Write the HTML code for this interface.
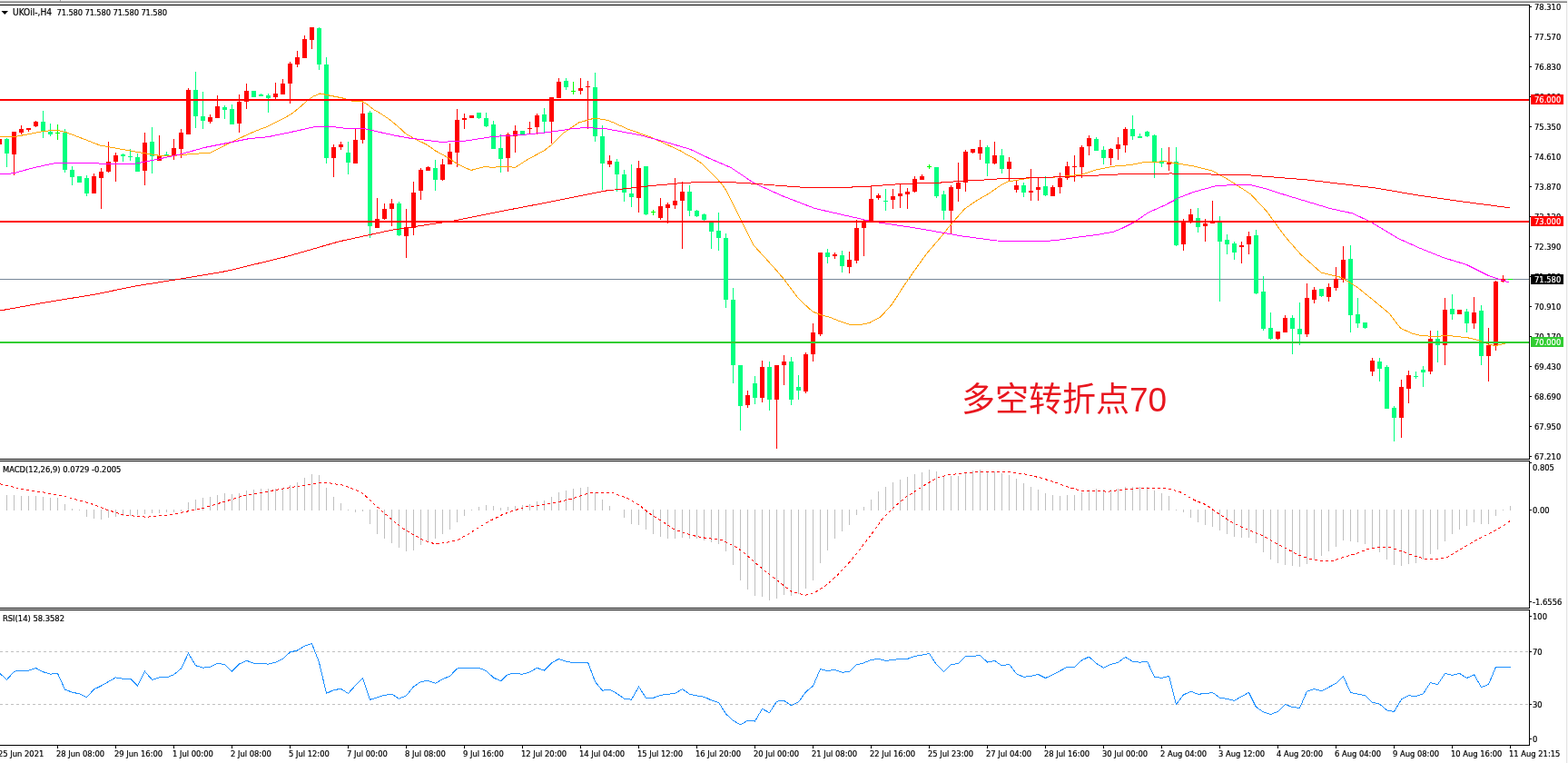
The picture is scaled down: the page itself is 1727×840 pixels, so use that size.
<!DOCTYPE html>
<html><head><meta charset="utf-8"><title>UKOil H4</title>
<style>
html,body{margin:0;padding:0;background:#fff;width:1727px;height:840px;overflow:hidden}
svg{display:block}
.t text,.bl{font-family:"DejaVu Sans Condensed","DejaVu Sans","Liberation Sans",sans-serif;font-size:9.3px;stroke:currentColor;stroke-width:0.2px}
.t text{color:#000} .bl{color:#fff}
.cn{font-family:"Liberation Sans","Noto Sans CJK SC",sans-serif;font-size:37px}
</style></head><body>
<svg width="1727" height="840" viewBox="0 0 1727 840" shape-rendering="crispEdges"><rect x="0" y="0" width="1726" height="1" fill="#f4f4f4"/><rect x="0" y="1" width="1726" height="1" fill="#b4b4b4"/><rect x="0" y="2" width="1726" height="1" fill="#7c7c7c"/><rect x="66" y="0" width="1" height="2" fill="#9a9a9a"/><rect x="1725" y="3" width="1" height="837" fill="#e3e3e3"/><rect x="1726" y="0" width="1" height="840" fill="#f8f8f8"/><defs><clipPath id="cm"><rect x="0" y="6" width="1684" height="499"/></clipPath><clipPath id="cmacd"><rect x="0" y="508" width="1684" height="161"/></clipPath><clipPath id="crsi"><rect x="0" y="672" width="1684" height="148"/></clipPath></defs><g clip-path="url(#cm)"><rect x="0" y="307" width="1684" height="1" fill="#778899"/><rect x="-1" y="151" width="1" height="9" fill="#ff0000"/><rect x="-3" y="153" width="5" height="6" fill="#ff0000"/><rect x="7" y="152" width="1" height="32" fill="#00ff7f"/><rect x="5" y="153" width="5" height="16" fill="#00ff7f"/><rect x="15" y="145" width="1" height="48" fill="#ff0000"/><rect x="13" y="145" width="5" height="25" fill="#ff0000"/><rect x="23" y="138" width="1" height="10" fill="#ff0000"/><rect x="21" y="142" width="5" height="4" fill="#ff0000"/><rect x="31" y="141" width="1" height="4" fill="#ff0000"/><rect x="29" y="141" width="5" height="2" fill="#ff0000"/><rect x="39" y="133" width="1" height="7" fill="#ff0000"/><rect x="37" y="134" width="5" height="5" fill="#ff0000"/><rect x="47" y="122" width="1" height="30" fill="#00ff7f"/><rect x="45" y="134" width="5" height="11" fill="#00ff7f"/><rect x="55" y="136" width="1" height="14" fill="#00ff7f"/><rect x="53" y="145" width="5" height="3" fill="#00ff7f"/><rect x="63" y="137" width="1" height="17" fill="#00ff00"/><rect x="61" y="146" width="5" height="1" fill="#00ff00"/><rect x="71" y="142" width="1" height="48" fill="#00ff7f"/><rect x="69" y="146" width="5" height="41" fill="#00ff7f"/><rect x="79" y="183" width="1" height="21" fill="#00ff7f"/><rect x="77" y="187" width="5" height="8" fill="#00ff7f"/><rect x="87" y="194" width="1" height="7" fill="#00ff7f"/><rect x="85" y="194" width="5" height="7" fill="#00ff7f"/><rect x="95" y="193" width="1" height="23" fill="#00ff7f"/><rect x="93" y="196" width="5" height="17" fill="#00ff7f"/><rect x="103" y="191" width="1" height="22" fill="#ff0000"/><rect x="101" y="194" width="5" height="19" fill="#ff0000"/><rect x="111" y="185" width="1" height="45" fill="#ff0000"/><rect x="109" y="189" width="5" height="7" fill="#ff0000"/><rect x="119" y="156" width="1" height="34" fill="#ff0000"/><rect x="117" y="178" width="5" height="11" fill="#ff0000"/><rect x="127" y="168" width="1" height="32" fill="#ff0000"/><rect x="125" y="171" width="5" height="7" fill="#ff0000"/><rect x="135" y="169" width="1" height="9" fill="#00ff7f"/><rect x="133" y="170" width="5" height="2" fill="#00ff7f"/><rect x="143" y="164" width="1" height="13" fill="#00ff7f"/><rect x="141" y="172" width="5" height="1" fill="#00ff7f"/><rect x="151" y="169" width="1" height="20" fill="#00ff7f"/><rect x="149" y="173" width="5" height="16" fill="#00ff7f"/><rect x="159" y="146" width="1" height="58" fill="#ff0000"/><rect x="157" y="157" width="5" height="31" fill="#ff0000"/><rect x="167" y="140" width="1" height="51" fill="#00ff7f"/><rect x="165" y="156" width="5" height="16" fill="#00ff7f"/><rect x="175" y="149" width="1" height="28" fill="#ff0000"/><rect x="173" y="172" width="5" height="5" fill="#ff0000"/><rect x="183" y="167" width="1" height="5" fill="#00ff7f"/><rect x="181" y="170" width="5" height="2" fill="#00ff7f"/><rect x="191" y="153" width="1" height="23" fill="#ff0000"/><rect x="189" y="163" width="5" height="9" fill="#ff0000"/><rect x="199" y="142" width="1" height="32" fill="#ff0000"/><rect x="197" y="146" width="5" height="18" fill="#ff0000"/><rect x="207" y="97" width="1" height="51" fill="#ff0000"/><rect x="205" y="99" width="5" height="49" fill="#ff0000"/><rect x="215" y="79" width="1" height="62" fill="#00ff7f"/><rect x="213" y="99" width="5" height="29" fill="#00ff7f"/><rect x="223" y="101" width="1" height="41" fill="#00ff7f"/><rect x="221" y="128" width="5" height="5" fill="#00ff7f"/><rect x="231" y="126" width="1" height="10" fill="#ff0000"/><rect x="229" y="129" width="5" height="5" fill="#ff0000"/><rect x="239" y="105" width="1" height="25" fill="#ff0000"/><rect x="237" y="117" width="5" height="13" fill="#ff0000"/><rect x="247" y="116" width="1" height="15" fill="#00ff7f"/><rect x="245" y="118" width="5" height="3" fill="#00ff7f"/><rect x="255" y="115" width="1" height="22" fill="#00ff7f"/><rect x="253" y="120" width="5" height="17" fill="#00ff7f"/><rect x="263" y="104" width="1" height="42" fill="#ff0000"/><rect x="261" y="112" width="5" height="24" fill="#ff0000"/><rect x="271" y="92" width="1" height="28" fill="#ff0000"/><rect x="269" y="100" width="5" height="12" fill="#ff0000"/><rect x="279" y="100" width="1" height="7" fill="#00ff7f"/><rect x="277" y="100" width="5" height="7" fill="#00ff7f"/><rect x="287" y="103" width="1" height="3" fill="#00ff7f"/><rect x="285" y="104" width="5" height="2" fill="#00ff7f"/><rect x="295" y="103" width="1" height="21" fill="#00ff7f"/><rect x="293" y="105" width="5" height="3" fill="#00ff7f"/><rect x="303" y="91" width="1" height="18" fill="#ff0000"/><rect x="301" y="103" width="5" height="4" fill="#ff0000"/><rect x="311" y="87" width="1" height="17" fill="#ff0000"/><rect x="309" y="92" width="5" height="12" fill="#ff0000"/><rect x="319" y="68" width="1" height="46" fill="#ff0000"/><rect x="317" y="70" width="5" height="22" fill="#ff0000"/><rect x="327" y="56" width="1" height="18" fill="#ff0000"/><rect x="325" y="63" width="5" height="8" fill="#ff0000"/><rect x="335" y="39" width="1" height="25" fill="#ff0000"/><rect x="333" y="43" width="5" height="21" fill="#ff0000"/><rect x="343" y="30" width="1" height="24" fill="#ff0000"/><rect x="341" y="30" width="5" height="14" fill="#ff0000"/><rect x="351" y="30" width="1" height="47" fill="#00ff7f"/><rect x="349" y="31" width="5" height="40" fill="#00ff7f"/><rect x="359" y="63" width="1" height="117" fill="#00ff7f"/><rect x="357" y="71" width="5" height="103" fill="#00ff7f"/><rect x="367" y="159" width="1" height="36" fill="#ff0000"/><rect x="365" y="162" width="5" height="12" fill="#ff0000"/><rect x="375" y="156" width="1" height="9" fill="#ff0000"/><rect x="373" y="159" width="5" height="3" fill="#ff0000"/><rect x="383" y="156" width="1" height="36" fill="#00ff7f"/><rect x="381" y="168" width="5" height="11" fill="#00ff7f"/><rect x="391" y="142" width="1" height="38" fill="#ff0000"/><rect x="389" y="154" width="5" height="26" fill="#ff0000"/><rect x="399" y="111" width="1" height="47" fill="#ff0000"/><rect x="397" y="125" width="5" height="29" fill="#ff0000"/><rect x="407" y="122" width="1" height="140" fill="#00ff7f"/><rect x="405" y="124" width="5" height="125" fill="#00ff7f"/><rect x="415" y="218" width="1" height="33" fill="#ff0000"/><rect x="413" y="241" width="5" height="10" fill="#ff0000"/><rect x="423" y="224" width="1" height="18" fill="#ff0000"/><rect x="421" y="230" width="5" height="11" fill="#ff0000"/><rect x="431" y="219" width="1" height="30" fill="#ff0000"/><rect x="429" y="224" width="5" height="6" fill="#ff0000"/><rect x="439" y="222" width="1" height="38" fill="#00ff7f"/><rect x="437" y="224" width="5" height="35" fill="#00ff7f"/><rect x="447" y="230" width="1" height="54" fill="#ff0000"/><rect x="445" y="250" width="5" height="10" fill="#ff0000"/><rect x="455" y="200" width="1" height="59" fill="#ff0000"/><rect x="453" y="212" width="5" height="39" fill="#ff0000"/><rect x="463" y="185" width="1" height="35" fill="#ff0000"/><rect x="461" y="187" width="5" height="23" fill="#ff0000"/><rect x="471" y="183" width="1" height="5" fill="#ff0000"/><rect x="469" y="184" width="5" height="4" fill="#ff0000"/><rect x="479" y="176" width="1" height="34" fill="#00ff7f"/><rect x="477" y="185" width="5" height="13" fill="#00ff7f"/><rect x="487" y="175" width="1" height="24" fill="#ff0000"/><rect x="485" y="181" width="5" height="17" fill="#ff0000"/><rect x="495" y="158" width="1" height="23" fill="#ff0000"/><rect x="493" y="167" width="5" height="14" fill="#ff0000"/><rect x="503" y="120" width="1" height="64" fill="#ff0000"/><rect x="501" y="132" width="5" height="36" fill="#ff0000"/><rect x="511" y="125" width="1" height="17" fill="#ff0000"/><rect x="509" y="130" width="5" height="2" fill="#ff0000"/><rect x="519" y="127" width="1" height="3" fill="#ff0000"/><rect x="517" y="127" width="5" height="3" fill="#ff0000"/><rect x="527" y="124" width="1" height="7" fill="#00ff7f"/><rect x="525" y="124" width="5" height="6" fill="#00ff7f"/><rect x="535" y="124" width="1" height="16" fill="#00ff7f"/><rect x="533" y="130" width="5" height="9" fill="#00ff7f"/><rect x="543" y="133" width="1" height="31" fill="#00ff7f"/><rect x="541" y="137" width="5" height="27" fill="#00ff7f"/><rect x="551" y="148" width="1" height="42" fill="#00ff7f"/><rect x="549" y="163" width="5" height="12" fill="#00ff7f"/><rect x="559" y="146" width="1" height="43" fill="#ff0000"/><rect x="557" y="148" width="5" height="26" fill="#ff0000"/><rect x="567" y="138" width="1" height="30" fill="#ff0000"/><rect x="565" y="144" width="5" height="6" fill="#ff0000"/><rect x="575" y="144" width="1" height="5" fill="#00ff7f"/><rect x="573" y="144" width="5" height="4" fill="#00ff7f"/><rect x="583" y="134" width="1" height="14" fill="#ff0000"/><rect x="581" y="141" width="5" height="1" fill="#ff0000"/><rect x="591" y="125" width="1" height="23" fill="#ff0000"/><rect x="589" y="127" width="5" height="13" fill="#ff0000"/><rect x="599" y="119" width="1" height="27" fill="#00ff7f"/><rect x="597" y="126" width="5" height="8" fill="#00ff7f"/><rect x="607" y="107" width="1" height="51" fill="#ff0000"/><rect x="605" y="107" width="5" height="27" fill="#ff0000"/><rect x="615" y="86" width="1" height="22" fill="#ff0000"/><rect x="613" y="90" width="5" height="18" fill="#ff0000"/><rect x="623" y="86" width="1" height="13" fill="#00ff7f"/><rect x="621" y="89" width="5" height="7" fill="#00ff7f"/><rect x="631" y="90" width="1" height="14" fill="#00ff00"/><rect x="629" y="100" width="5" height="1" fill="#00ff00"/><rect x="639" y="86" width="1" height="18" fill="#ff0000"/><rect x="637" y="97" width="5" height="3" fill="#ff0000"/><rect x="647" y="89" width="1" height="53" fill="#ff0000"/><rect x="645" y="95" width="5" height="1" fill="#ff0000"/><rect x="655" y="80" width="1" height="76" fill="#00ff7f"/><rect x="653" y="96" width="5" height="54" fill="#00ff7f"/><rect x="663" y="138" width="1" height="71" fill="#00ff7f"/><rect x="661" y="150" width="5" height="30" fill="#00ff7f"/><rect x="671" y="171" width="1" height="13" fill="#ff0000"/><rect x="669" y="177" width="5" height="4" fill="#ff0000"/><rect x="679" y="175" width="1" height="36" fill="#00ff7f"/><rect x="677" y="178" width="5" height="14" fill="#00ff7f"/><rect x="687" y="187" width="1" height="35" fill="#00ff7f"/><rect x="685" y="192" width="5" height="20" fill="#00ff7f"/><rect x="695" y="181" width="1" height="47" fill="#00ff7f"/><rect x="693" y="213" width="5" height="4" fill="#00ff7f"/><rect x="703" y="177" width="1" height="57" fill="#ff0000"/><rect x="701" y="185" width="5" height="33" fill="#ff0000"/><rect x="711" y="183" width="1" height="54" fill="#00ff7f"/><rect x="709" y="183" width="5" height="53" fill="#00ff7f"/><rect x="719" y="231" width="1" height="6" fill="#00ff00"/><rect x="717" y="233" width="5" height="1" fill="#00ff00"/><rect x="727" y="218" width="1" height="24" fill="#ff0000"/><rect x="725" y="227" width="5" height="13" fill="#ff0000"/><rect x="735" y="223" width="1" height="23" fill="#ff0000"/><rect x="733" y="225" width="5" height="4" fill="#ff0000"/><rect x="743" y="196" width="1" height="34" fill="#ff0000"/><rect x="741" y="221" width="5" height="5" fill="#ff0000"/><rect x="751" y="200" width="1" height="74" fill="#ff0000"/><rect x="749" y="211" width="5" height="10" fill="#ff0000"/><rect x="759" y="204" width="1" height="34" fill="#00ff7f"/><rect x="757" y="211" width="5" height="21" fill="#00ff7f"/><rect x="767" y="231" width="1" height="8" fill="#00ff7f"/><rect x="765" y="232" width="5" height="6" fill="#00ff7f"/><rect x="775" y="235" width="1" height="10" fill="#00ff7f"/><rect x="773" y="236" width="5" height="6" fill="#00ff7f"/><rect x="783" y="245" width="1" height="29" fill="#00ff7f"/><rect x="781" y="245" width="5" height="10" fill="#00ff7f"/><rect x="791" y="234" width="1" height="42" fill="#00ff7f"/><rect x="789" y="254" width="5" height="8" fill="#00ff7f"/><rect x="799" y="257" width="1" height="82" fill="#00ff7f"/><rect x="797" y="262" width="5" height="68" fill="#00ff7f"/><rect x="807" y="317" width="1" height="105" fill="#00ff7f"/><rect x="805" y="330" width="5" height="72" fill="#00ff7f"/><rect x="815" y="402" width="1" height="72" fill="#00ff7f"/><rect x="813" y="402" width="5" height="45" fill="#00ff7f"/><rect x="823" y="430" width="1" height="19" fill="#ff0000"/><rect x="821" y="435" width="5" height="11" fill="#ff0000"/><rect x="831" y="414" width="1" height="31" fill="#00ff7f"/><rect x="829" y="422" width="5" height="16" fill="#00ff7f"/><rect x="839" y="397" width="1" height="46" fill="#ff0000"/><rect x="837" y="404" width="5" height="34" fill="#ff0000"/><rect x="847" y="398" width="1" height="54" fill="#00ff7f"/><rect x="845" y="404" width="5" height="36" fill="#00ff7f"/><rect x="855" y="402" width="1" height="92" fill="#ff0000"/><rect x="853" y="402" width="5" height="38" fill="#ff0000"/><rect x="863" y="391" width="1" height="33" fill="#ff0000"/><rect x="861" y="398" width="5" height="4" fill="#ff0000"/><rect x="871" y="393" width="1" height="53" fill="#00ff7f"/><rect x="869" y="398" width="5" height="42" fill="#00ff7f"/><rect x="879" y="413" width="1" height="27" fill="#00ff7f"/><rect x="877" y="426" width="5" height="4" fill="#00ff7f"/><rect x="887" y="388" width="1" height="45" fill="#ff0000"/><rect x="885" y="390" width="5" height="41" fill="#ff0000"/><rect x="895" y="356" width="1" height="42" fill="#ff0000"/><rect x="893" y="366" width="5" height="24" fill="#ff0000"/><rect x="903" y="278" width="1" height="92" fill="#ff0000"/><rect x="901" y="278" width="5" height="90" fill="#ff0000"/><rect x="911" y="274" width="1" height="16" fill="#00ff7f"/><rect x="909" y="278" width="5" height="5" fill="#00ff7f"/><rect x="919" y="278" width="1" height="7" fill="#ff0000"/><rect x="917" y="280" width="5" height="2" fill="#ff0000"/><rect x="927" y="276" width="1" height="24" fill="#00ff7f"/><rect x="925" y="281" width="5" height="12" fill="#00ff7f"/><rect x="935" y="277" width="1" height="24" fill="#ff0000"/><rect x="933" y="286" width="5" height="8" fill="#ff0000"/><rect x="943" y="242" width="1" height="48" fill="#ff0000"/><rect x="941" y="251" width="5" height="36" fill="#ff0000"/><rect x="951" y="242" width="1" height="40" fill="#ff0000"/><rect x="949" y="244" width="5" height="7" fill="#ff0000"/><rect x="959" y="204" width="1" height="41" fill="#ff0000"/><rect x="957" y="219" width="5" height="26" fill="#ff0000"/><rect x="967" y="213" width="1" height="7" fill="#ff0000"/><rect x="965" y="215" width="5" height="3" fill="#ff0000"/><rect x="975" y="208" width="1" height="24" fill="#00ff7f"/><rect x="973" y="221" width="5" height="1" fill="#00ff7f"/><rect x="983" y="208" width="1" height="22" fill="#ff0000"/><rect x="981" y="216" width="5" height="4" fill="#ff0000"/><rect x="991" y="202" width="1" height="27" fill="#ff0000"/><rect x="989" y="213" width="5" height="3" fill="#ff0000"/><rect x="999" y="207" width="1" height="23" fill="#ff0000"/><rect x="997" y="211" width="5" height="3" fill="#ff0000"/><rect x="1007" y="194" width="1" height="18" fill="#ff0000"/><rect x="1005" y="197" width="5" height="14" fill="#ff0000"/><rect x="1015" y="192" width="1" height="6" fill="#ff0000"/><rect x="1013" y="194" width="5" height="4" fill="#ff0000"/><rect x="1023" y="181" width="1" height="5" fill="#00ff00"/><rect x="1021" y="183" width="5" height="1" fill="#00ff00"/><rect x="1031" y="184" width="1" height="34" fill="#00ff7f"/><rect x="1029" y="184" width="5" height="32" fill="#00ff7f"/><rect x="1039" y="210" width="1" height="32" fill="#00ff7f"/><rect x="1037" y="214" width="5" height="18" fill="#00ff7f"/><rect x="1047" y="204" width="1" height="54" fill="#ff0000"/><rect x="1045" y="206" width="5" height="26" fill="#ff0000"/><rect x="1055" y="179" width="1" height="43" fill="#ff0000"/><rect x="1053" y="201" width="5" height="7" fill="#ff0000"/><rect x="1063" y="165" width="1" height="46" fill="#ff0000"/><rect x="1061" y="167" width="5" height="34" fill="#ff0000"/><rect x="1071" y="164" width="1" height="5" fill="#ff0000"/><rect x="1069" y="164" width="5" height="4" fill="#ff0000"/><rect x="1079" y="154" width="1" height="22" fill="#ff0000"/><rect x="1077" y="162" width="5" height="7" fill="#ff0000"/><rect x="1087" y="160" width="1" height="34" fill="#00ff7f"/><rect x="1085" y="162" width="5" height="18" fill="#00ff7f"/><rect x="1095" y="156" width="1" height="25" fill="#ff0000"/><rect x="1093" y="171" width="5" height="9" fill="#ff0000"/><rect x="1103" y="164" width="1" height="27" fill="#00ff7f"/><rect x="1101" y="171" width="5" height="15" fill="#00ff7f"/><rect x="1111" y="173" width="1" height="26" fill="#ff0000"/><rect x="1109" y="178" width="5" height="8" fill="#ff0000"/><rect x="1119" y="199" width="1" height="13" fill="#ff0000"/><rect x="1117" y="204" width="5" height="5" fill="#ff0000"/><rect x="1127" y="201" width="1" height="16" fill="#00ff7f"/><rect x="1125" y="204" width="5" height="8" fill="#00ff7f"/><rect x="1135" y="186" width="1" height="35" fill="#ff0000"/><rect x="1133" y="210" width="5" height="2" fill="#ff0000"/><rect x="1143" y="196" width="1" height="25" fill="#ff0000"/><rect x="1141" y="206" width="5" height="3" fill="#ff0000"/><rect x="1151" y="194" width="1" height="22" fill="#00ff7f"/><rect x="1149" y="205" width="5" height="10" fill="#00ff7f"/><rect x="1159" y="204" width="1" height="12" fill="#ff0000"/><rect x="1157" y="206" width="5" height="10" fill="#ff0000"/><rect x="1167" y="190" width="1" height="23" fill="#ff0000"/><rect x="1165" y="196" width="5" height="10" fill="#ff0000"/><rect x="1175" y="178" width="1" height="20" fill="#ff0000"/><rect x="1173" y="183" width="5" height="13" fill="#ff0000"/><rect x="1183" y="171" width="1" height="29" fill="#ff0000"/><rect x="1181" y="183" width="5" height="1" fill="#ff0000"/><rect x="1191" y="160" width="1" height="36" fill="#ff0000"/><rect x="1189" y="162" width="5" height="22" fill="#ff0000"/><rect x="1199" y="149" width="1" height="22" fill="#ff0000"/><rect x="1197" y="152" width="5" height="9" fill="#ff0000"/><rect x="1207" y="151" width="1" height="15" fill="#00ff7f"/><rect x="1205" y="153" width="5" height="13" fill="#00ff7f"/><rect x="1215" y="161" width="1" height="20" fill="#00ff7f"/><rect x="1213" y="165" width="5" height="9" fill="#00ff7f"/><rect x="1223" y="163" width="1" height="19" fill="#ff0000"/><rect x="1221" y="164" width="5" height="10" fill="#ff0000"/><rect x="1231" y="151" width="1" height="25" fill="#ff0000"/><rect x="1229" y="159" width="5" height="5" fill="#ff0000"/><rect x="1239" y="140" width="1" height="28" fill="#ff0000"/><rect x="1237" y="142" width="5" height="18" fill="#ff0000"/><rect x="1247" y="127" width="1" height="27" fill="#00ff7f"/><rect x="1245" y="142" width="5" height="8" fill="#00ff7f"/><rect x="1255" y="147" width="1" height="5" fill="#00ff7f"/><rect x="1253" y="150" width="5" height="2" fill="#00ff7f"/><rect x="1263" y="144" width="1" height="7" fill="#00ff7f"/><rect x="1261" y="145" width="5" height="5" fill="#00ff7f"/><rect x="1271" y="148" width="1" height="48" fill="#00ff7f"/><rect x="1269" y="149" width="5" height="29" fill="#00ff7f"/><rect x="1279" y="163" width="1" height="21" fill="#00ff7f"/><rect x="1277" y="178" width="5" height="2" fill="#00ff7f"/><rect x="1287" y="162" width="1" height="26" fill="#ff0000"/><rect x="1285" y="178" width="5" height="3" fill="#ff0000"/><rect x="1295" y="162" width="1" height="109" fill="#00ff7f"/><rect x="1293" y="178" width="5" height="92" fill="#00ff7f"/><rect x="1303" y="241" width="1" height="35" fill="#ff0000"/><rect x="1301" y="244" width="5" height="25" fill="#ff0000"/><rect x="1311" y="230" width="1" height="16" fill="#ff0000"/><rect x="1309" y="236" width="5" height="9" fill="#ff0000"/><rect x="1319" y="229" width="1" height="27" fill="#00ff7f"/><rect x="1317" y="240" width="5" height="10" fill="#00ff7f"/><rect x="1327" y="241" width="1" height="25" fill="#ff0000"/><rect x="1325" y="246" width="5" height="3" fill="#ff0000"/><rect x="1335" y="221" width="1" height="25" fill="#ff0000"/><rect x="1333" y="244" width="5" height="2" fill="#ff0000"/><rect x="1343" y="238" width="1" height="94" fill="#00ff7f"/><rect x="1341" y="245" width="5" height="21" fill="#00ff7f"/><rect x="1351" y="258" width="1" height="22" fill="#00ff7f"/><rect x="1349" y="264" width="5" height="5" fill="#00ff7f"/><rect x="1359" y="266" width="1" height="20" fill="#00ff7f"/><rect x="1357" y="268" width="5" height="10" fill="#00ff7f"/><rect x="1367" y="266" width="1" height="24" fill="#ff0000"/><rect x="1365" y="270" width="5" height="2" fill="#ff0000"/><rect x="1375" y="255" width="1" height="25" fill="#ff0000"/><rect x="1373" y="260" width="5" height="9" fill="#ff0000"/><rect x="1383" y="253" width="1" height="71" fill="#00ff7f"/><rect x="1381" y="259" width="5" height="64" fill="#00ff7f"/><rect x="1391" y="304" width="1" height="60" fill="#00ff7f"/><rect x="1389" y="321" width="5" height="41" fill="#00ff7f"/><rect x="1399" y="344" width="1" height="30" fill="#00ff7f"/><rect x="1397" y="361" width="5" height="12" fill="#00ff7f"/><rect x="1407" y="365" width="1" height="9" fill="#ff0000"/><rect x="1405" y="365" width="5" height="8" fill="#ff0000"/><rect x="1415" y="347" width="1" height="19" fill="#ff0000"/><rect x="1413" y="350" width="5" height="16" fill="#ff0000"/><rect x="1423" y="347" width="1" height="43" fill="#00ff7f"/><rect x="1421" y="350" width="5" height="12" fill="#00ff7f"/><rect x="1431" y="333" width="1" height="47" fill="#00ff7f"/><rect x="1429" y="362" width="5" height="6" fill="#00ff7f"/><rect x="1439" y="312" width="1" height="59" fill="#ff0000"/><rect x="1437" y="328" width="5" height="40" fill="#ff0000"/><rect x="1447" y="316" width="1" height="18" fill="#ff0000"/><rect x="1445" y="319" width="5" height="11" fill="#ff0000"/><rect x="1455" y="318" width="1" height="9" fill="#00ff7f"/><rect x="1453" y="318" width="5" height="8" fill="#00ff7f"/><rect x="1463" y="312" width="1" height="20" fill="#ff0000"/><rect x="1461" y="316" width="5" height="11" fill="#ff0000"/><rect x="1471" y="294" width="1" height="26" fill="#ff0000"/><rect x="1469" y="307" width="5" height="10" fill="#ff0000"/><rect x="1479" y="271" width="1" height="40" fill="#ff0000"/><rect x="1477" y="286" width="5" height="22" fill="#ff0000"/><rect x="1487" y="270" width="1" height="96" fill="#00ff7f"/><rect x="1485" y="285" width="5" height="62" fill="#00ff7f"/><rect x="1495" y="328" width="1" height="33" fill="#00ff7f"/><rect x="1493" y="346" width="5" height="10" fill="#00ff7f"/><rect x="1503" y="355" width="1" height="7" fill="#00ff7f"/><rect x="1501" y="355" width="5" height="6" fill="#00ff7f"/><rect x="1511" y="394" width="1" height="20" fill="#ff0000"/><rect x="1509" y="397" width="5" height="12" fill="#ff0000"/><rect x="1519" y="394" width="1" height="26" fill="#00ff7f"/><rect x="1517" y="398" width="5" height="8" fill="#00ff7f"/><rect x="1527" y="402" width="1" height="48" fill="#00ff7f"/><rect x="1525" y="404" width="5" height="46" fill="#00ff7f"/><rect x="1535" y="447" width="1" height="39" fill="#00ff7f"/><rect x="1533" y="449" width="5" height="11" fill="#00ff7f"/><rect x="1543" y="418" width="1" height="64" fill="#ff0000"/><rect x="1541" y="426" width="5" height="34" fill="#ff0000"/><rect x="1551" y="408" width="1" height="36" fill="#ff0000"/><rect x="1549" y="413" width="5" height="15" fill="#ff0000"/><rect x="1559" y="409" width="1" height="8" fill="#00ff7f"/><rect x="1557" y="414" width="5" height="1" fill="#00ff7f"/><rect x="1567" y="403" width="1" height="23" fill="#00ff7f"/><rect x="1565" y="407" width="5" height="3" fill="#00ff7f"/><rect x="1575" y="364" width="1" height="48" fill="#ff0000"/><rect x="1573" y="373" width="5" height="36" fill="#ff0000"/><rect x="1583" y="364" width="1" height="35" fill="#00ff7f"/><rect x="1581" y="373" width="5" height="7" fill="#00ff7f"/><rect x="1591" y="328" width="1" height="74" fill="#ff0000"/><rect x="1589" y="341" width="5" height="39" fill="#ff0000"/><rect x="1599" y="324" width="1" height="28" fill="#00ff7f"/><rect x="1597" y="340" width="5" height="6" fill="#00ff7f"/><rect x="1607" y="341" width="1" height="5" fill="#ff0000"/><rect x="1605" y="341" width="5" height="5" fill="#ff0000"/><rect x="1615" y="340" width="1" height="26" fill="#00ff7f"/><rect x="1613" y="343" width="5" height="13" fill="#00ff7f"/><rect x="1623" y="327" width="1" height="35" fill="#ff0000"/><rect x="1621" y="344" width="5" height="12" fill="#ff0000"/><rect x="1631" y="336" width="1" height="66" fill="#00ff7f"/><rect x="1629" y="342" width="5" height="50" fill="#00ff7f"/><rect x="1639" y="361" width="1" height="59" fill="#ff0000"/><rect x="1637" y="380" width="5" height="12" fill="#ff0000"/><rect x="1647" y="309" width="1" height="77" fill="#ff0000"/><rect x="1645" y="310" width="5" height="70" fill="#ff0000"/><rect x="1655" y="303" width="1" height="8" fill="#ff0000"/><rect x="1653" y="307" width="5" height="3" fill="#ff0000"/><rect x="1663" y="307" width="1" height="1" fill="#00ff00"/><rect x="1661" y="307" width="5" height="1" fill="#00ff00"/><polyline points="0.00,150.00 15.00,150.75 30.00,148.00 47.50,144.50 62.50,143.25 72.50,145.50 87.50,151.25 110.00,160.00 135.00,164.50 155.00,168.00 175.00,171.25 185.00,172.00 200.00,170.50 232.50,168.00 250.00,158.75 270.10,149.30 282.00,144.00 293.90,139.60 304.30,134.40 313.20,129.90 322.10,124.70 331.10,117.30 338.50,110.60 345.00,106.10 352.50,103.00 362.50,105.00 377.50,108.00 387.50,111.25 399.50,112.00 404.00,114.60 411.40,120.50 420.40,125.70 429.30,131.70 438.20,139.10 447.10,147.30 456.10,152.50 470.00,159.20 480.00,166.25 492.50,173.10 505.00,181.25 518.75,187.50 530.00,184.40 535.00,183.50 542.50,184.40 550.00,183.50 560.00,183.50 567.50,184.40 580.00,176.25 592.50,169.40 598.75,166.25 607.50,159.40 620.00,146.90 637.50,135.00 655.00,130.00 670.00,132.50 692.50,142.50 717.50,151.25 750.00,166.25 755.70,170.00 764.30,174.30 772.90,180.00 781.40,188.60 790.00,197.10 795.70,203.60 800.00,210.00 804.30,218.60 808.60,227.10 812.90,235.70 818.60,247.10 830.00,270.00 843.75,285.00 855.00,297.50 862.50,306.25 870.00,316.25 877.50,326.25 887.50,336.25 895.00,343.00 905.00,347.00 912.50,348.75 925.00,353.75 935.00,357.00 945.00,358.00 957.50,355.50 970.00,348.75 982.50,335.00 995.00,315.50 1007.50,297.50 1020.00,280.00 1035.00,262.50 1045.00,250.00 1052.50,241.25 1062.50,230.00 1075.00,221.25 1090.00,212.50 1102.50,203.75 1110.00,200.00 1135.00,195.75 1160.00,195.20 1178.60,193.50 1191.90,192.00 1207.10,187.00 1226.20,183.20 1245.20,181.50 1260.50,178.50 1283.30,177.80 1300.00,180.60 1315.00,183.00 1335.00,188.00 1352.50,197.50 1377.50,213.75 1395.00,232.50 1415.00,260.00 1432.50,280.00 1455.00,300.00 1477.50,305.50 1495.00,316.25 1515.00,332.50 1530.00,345.00 1542.50,361.25 1555.00,367.00 1565.00,369.50 1580.00,370.50 1595.00,369.50 1605.00,370.50 1617.50,372.00 1630.00,375.00 1640.00,379.50 1647.50,380.50 1660.00,377.50" fill="none" stroke="#ffa500" stroke-width="1" /><polyline points="0.00,192.00 15.00,190.75 37.50,184.50 62.50,179.25 92.50,179.25 120.00,180.50 150.00,180.00 175.00,175.00 200.00,169.50 225.00,162.50 250.00,157.50 275.00,152.50 295.00,150.75 325.00,144.50 347.40,139.40 362.30,139.10 380.20,141.30 399.50,141.30 408.50,143.30 421.80,146.30 436.70,149.50 451.60,152.20 470.00,154.30 485.00,156.25 510.00,155.50 542.50,150.50 580.00,148.00 605.00,145.50 630.00,141.75 645.00,140.50 667.50,141.75 705.00,148.75 730.00,155.50 760.00,164.25 780.00,173.75 805.00,184.50 830.00,201.25 860.00,215.00 897.50,229.50 960.00,243.75 1010.00,251.25 1060.00,260.00 1097.50,265.00 1150.00,265.70 1169.00,263.80 1188.00,261.00 1207.00,258.70 1226.20,255.20 1235.70,251.40 1249.00,244.80 1264.30,234.30 1283.30,225.70 1300.00,217.10 1315.00,211.25 1340.00,204.50 1375.00,203.00 1395.00,208.00 1415.00,214.50 1440.00,222.00 1465.00,229.50 1490.00,235.00 1510.00,244.50 1540.00,262.50 1565.00,273.75 1590.00,283.75 1615.00,291.25 1640.00,303.75 1662.50,311.25" fill="none" stroke="#ff00ff" stroke-width="1" /><polyline points="0.00,342.00 50.00,333.00 105.00,324.00 149.00,315.00 199.00,307.00 249.00,298.60 316.00,282.40 373.00,266.00 430.00,253.50 500.00,243.00 555.00,232.00 605.00,222.50 667.50,210.00 717.50,204.50 755.00,201.25 785.00,200.00 817.50,201.25 860.00,204.50 885.00,206.25 935.00,206.25 940.00,205.90 955.50,205.30 971.00,204.10 987.60,202.90 1011.40,201.90 1035.20,201.10 1051.90,199.90 1067.40,198.70 1082.90,198.10 1099.50,196.90 1110.00,196.70 1160.00,195.00 1210.00,193.00 1247.50,191.25 1290.00,191.00 1377.50,193.00 1440.00,198.00 1515.00,207.00 1565.00,215.50 1615.00,222.50 1662.50,228.75" fill="none" stroke="#ff0000" stroke-width="1" /><rect x="0" y="109" width="1684" height="2" fill="#ff0000"/><rect x="0" y="243" width="1684" height="2" fill="#ff0000"/><rect x="0" y="376" width="1684" height="2" fill="#32cd32"/></g><rect x="0" y="5" width="1685" height="1" fill="#000"/><rect x="1684" y="5" width="1" height="501" fill="#000"/><rect x="0" y="505" width="1685" height="1" fill="#000"/><rect x="0" y="507" width="1685" height="1" fill="#000"/><rect x="1684" y="507" width="1" height="163" fill="#000"/><rect x="0" y="669" width="1685" height="1" fill="#000"/><rect x="0" y="671" width="1685" height="1" fill="#000"/><rect x="1684" y="671" width="1" height="150" fill="#000"/><rect x="0" y="820" width="1685" height="1" fill="#000"/><g clip-path="url(#cmacd)"><rect x="7" y="545" width="1" height="17" fill="#c0c0c0"/><rect x="15" y="545" width="1" height="17" fill="#c0c0c0"/><rect x="23" y="546" width="1" height="16" fill="#c0c0c0"/><rect x="31" y="546" width="1" height="16" fill="#c0c0c0"/><rect x="39" y="546" width="1" height="16" fill="#c0c0c0"/><rect x="47" y="547" width="1" height="15" fill="#c0c0c0"/><rect x="55" y="548" width="1" height="14" fill="#c0c0c0"/><rect x="63" y="548" width="1" height="14" fill="#c0c0c0"/><rect x="71" y="555" width="1" height="7" fill="#c0c0c0"/><rect x="79" y="560" width="1" height="2" fill="#c0c0c0"/><rect x="87" y="561" width="1" height="1" fill="#c0c0c0"/><rect x="95" y="561" width="1" height="8" fill="#c0c0c0"/><rect x="103" y="561" width="1" height="10" fill="#c0c0c0"/><rect x="111" y="561" width="1" height="11" fill="#c0c0c0"/><rect x="119" y="561" width="1" height="9" fill="#c0c0c0"/><rect x="127" y="561" width="1" height="8" fill="#c0c0c0"/><rect x="135" y="561" width="1" height="7" fill="#c0c0c0"/><rect x="143" y="561" width="1" height="7" fill="#c0c0c0"/><rect x="151" y="561" width="1" height="6" fill="#c0c0c0"/><rect x="159" y="561" width="1" height="5" fill="#c0c0c0"/><rect x="167" y="561" width="1" height="4" fill="#c0c0c0"/><rect x="175" y="561" width="1" height="4" fill="#c0c0c0"/><rect x="183" y="561" width="1" height="3" fill="#c0c0c0"/><rect x="191" y="561" width="1" height="3" fill="#c0c0c0"/><rect x="199" y="561" width="1" height="2" fill="#c0c0c0"/><rect x="207" y="553" width="1" height="9" fill="#c0c0c0"/><rect x="215" y="550" width="1" height="12" fill="#c0c0c0"/><rect x="223" y="548" width="1" height="14" fill="#c0c0c0"/><rect x="231" y="547" width="1" height="15" fill="#c0c0c0"/><rect x="239" y="545" width="1" height="17" fill="#c0c0c0"/><rect x="247" y="543" width="1" height="19" fill="#c0c0c0"/><rect x="255" y="544" width="1" height="18" fill="#c0c0c0"/><rect x="263" y="543" width="1" height="19" fill="#c0c0c0"/><rect x="271" y="540" width="1" height="22" fill="#c0c0c0"/><rect x="279" y="539" width="1" height="23" fill="#c0c0c0"/><rect x="287" y="538" width="1" height="24" fill="#c0c0c0"/><rect x="295" y="538" width="1" height="24" fill="#c0c0c0"/><rect x="303" y="538" width="1" height="24" fill="#c0c0c0"/><rect x="311" y="537" width="1" height="25" fill="#c0c0c0"/><rect x="319" y="534" width="1" height="28" fill="#c0c0c0"/><rect x="327" y="531" width="1" height="31" fill="#c0c0c0"/><rect x="335" y="526" width="1" height="36" fill="#c0c0c0"/><rect x="343" y="522" width="1" height="40" fill="#c0c0c0"/><rect x="351" y="523" width="1" height="39" fill="#c0c0c0"/><rect x="359" y="537" width="1" height="25" fill="#c0c0c0"/><rect x="367" y="547" width="1" height="15" fill="#c0c0c0"/><rect x="375" y="554" width="1" height="8" fill="#c0c0c0"/><rect x="383" y="561" width="1" height="1" fill="#c0c0c0"/><rect x="391" y="561" width="1" height="3" fill="#c0c0c0"/><rect x="399" y="561" width="1" height="2" fill="#c0c0c0"/><rect x="407" y="561" width="1" height="16" fill="#c0c0c0"/><rect x="415" y="561" width="1" height="27" fill="#c0c0c0"/><rect x="423" y="561" width="1" height="32" fill="#c0c0c0"/><rect x="431" y="561" width="1" height="37" fill="#c0c0c0"/><rect x="439" y="561" width="1" height="42" fill="#c0c0c0"/><rect x="447" y="561" width="1" height="46" fill="#c0c0c0"/><rect x="455" y="561" width="1" height="45" fill="#c0c0c0"/><rect x="463" y="561" width="1" height="39" fill="#c0c0c0"/><rect x="471" y="561" width="1" height="35" fill="#c0c0c0"/><rect x="479" y="561" width="1" height="32" fill="#c0c0c0"/><rect x="487" y="561" width="1" height="27" fill="#c0c0c0"/><rect x="495" y="561" width="1" height="22" fill="#c0c0c0"/><rect x="503" y="561" width="1" height="14" fill="#c0c0c0"/><rect x="511" y="561" width="1" height="7" fill="#c0c0c0"/><rect x="519" y="561" width="1" height="1" fill="#c0c0c0"/><rect x="527" y="558" width="1" height="4" fill="#c0c0c0"/><rect x="535" y="556" width="1" height="6" fill="#c0c0c0"/><rect x="543" y="557" width="1" height="5" fill="#c0c0c0"/><rect x="551" y="559" width="1" height="3" fill="#c0c0c0"/><rect x="559" y="558" width="1" height="4" fill="#c0c0c0"/><rect x="567" y="557" width="1" height="5" fill="#c0c0c0"/><rect x="575" y="556" width="1" height="6" fill="#c0c0c0"/><rect x="583" y="555" width="1" height="7" fill="#c0c0c0"/><rect x="591" y="552" width="1" height="10" fill="#c0c0c0"/><rect x="599" y="551" width="1" height="11" fill="#c0c0c0"/><rect x="607" y="547" width="1" height="15" fill="#c0c0c0"/><rect x="615" y="542" width="1" height="20" fill="#c0c0c0"/><rect x="623" y="540" width="1" height="22" fill="#c0c0c0"/><rect x="631" y="538" width="1" height="24" fill="#c0c0c0"/><rect x="639" y="537" width="1" height="25" fill="#c0c0c0"/><rect x="647" y="536" width="1" height="26" fill="#c0c0c0"/><rect x="655" y="542" width="1" height="20" fill="#c0c0c0"/><rect x="663" y="550" width="1" height="12" fill="#c0c0c0"/><rect x="671" y="557" width="1" height="5" fill="#c0c0c0"/><rect x="687" y="561" width="1" height="9" fill="#c0c0c0"/><rect x="695" y="561" width="1" height="16" fill="#c0c0c0"/><rect x="703" y="561" width="1" height="17" fill="#c0c0c0"/><rect x="711" y="561" width="1" height="22" fill="#c0c0c0"/><rect x="719" y="561" width="1" height="27" fill="#c0c0c0"/><rect x="727" y="561" width="1" height="30" fill="#c0c0c0"/><rect x="735" y="561" width="1" height="32" fill="#c0c0c0"/><rect x="743" y="561" width="1" height="32" fill="#c0c0c0"/><rect x="751" y="561" width="1" height="31" fill="#c0c0c0"/><rect x="759" y="561" width="1" height="32" fill="#c0c0c0"/><rect x="767" y="561" width="1" height="32" fill="#c0c0c0"/><rect x="775" y="561" width="1" height="34" fill="#c0c0c0"/><rect x="783" y="561" width="1" height="36" fill="#c0c0c0"/><rect x="791" y="561" width="1" height="38" fill="#c0c0c0"/><rect x="799" y="561" width="1" height="46" fill="#c0c0c0"/><rect x="807" y="561" width="1" height="61" fill="#c0c0c0"/><rect x="815" y="561" width="1" height="78" fill="#c0c0c0"/><rect x="823" y="561" width="1" height="88" fill="#c0c0c0"/><rect x="831" y="561" width="1" height="95" fill="#c0c0c0"/><rect x="839" y="561" width="1" height="96" fill="#c0c0c0"/><rect x="847" y="561" width="1" height="100" fill="#c0c0c0"/><rect x="855" y="561" width="1" height="98" fill="#c0c0c0"/><rect x="863" y="561" width="1" height="94" fill="#c0c0c0"/><rect x="871" y="561" width="1" height="95" fill="#c0c0c0"/><rect x="879" y="561" width="1" height="93" fill="#c0c0c0"/><rect x="887" y="561" width="1" height="87" fill="#c0c0c0"/><rect x="895" y="561" width="1" height="78" fill="#c0c0c0"/><rect x="903" y="561" width="1" height="59" fill="#c0c0c0"/><rect x="911" y="561" width="1" height="45" fill="#c0c0c0"/><rect x="919" y="561" width="1" height="32" fill="#c0c0c0"/><rect x="927" y="561" width="1" height="24" fill="#c0c0c0"/><rect x="935" y="561" width="1" height="17" fill="#c0c0c0"/><rect x="943" y="561" width="1" height="6" fill="#c0c0c0"/><rect x="951" y="558" width="1" height="4" fill="#c0c0c0"/><rect x="959" y="550" width="1" height="12" fill="#c0c0c0"/><rect x="967" y="541" width="1" height="21" fill="#c0c0c0"/><rect x="975" y="536" width="1" height="26" fill="#c0c0c0"/><rect x="983" y="531" width="1" height="31" fill="#c0c0c0"/><rect x="991" y="528" width="1" height="34" fill="#c0c0c0"/><rect x="999" y="525" width="1" height="37" fill="#c0c0c0"/><rect x="1007" y="522" width="1" height="40" fill="#c0c0c0"/><rect x="1015" y="520" width="1" height="42" fill="#c0c0c0"/><rect x="1023" y="517" width="1" height="45" fill="#c0c0c0"/><rect x="1031" y="519" width="1" height="43" fill="#c0c0c0"/><rect x="1039" y="524" width="1" height="38" fill="#c0c0c0"/><rect x="1047" y="524" width="1" height="38" fill="#c0c0c0"/><rect x="1055" y="524" width="1" height="38" fill="#c0c0c0"/><rect x="1063" y="521" width="1" height="41" fill="#c0c0c0"/><rect x="1071" y="518" width="1" height="44" fill="#c0c0c0"/><rect x="1079" y="517" width="1" height="45" fill="#c0c0c0"/><rect x="1087" y="519" width="1" height="43" fill="#c0c0c0"/><rect x="1095" y="519" width="1" height="43" fill="#c0c0c0"/><rect x="1103" y="521" width="1" height="41" fill="#c0c0c0"/><rect x="1111" y="523" width="1" height="39" fill="#c0c0c0"/><rect x="1119" y="527" width="1" height="35" fill="#c0c0c0"/><rect x="1127" y="532" width="1" height="30" fill="#c0c0c0"/><rect x="1135" y="536" width="1" height="26" fill="#c0c0c0"/><rect x="1143" y="539" width="1" height="23" fill="#c0c0c0"/><rect x="1151" y="543" width="1" height="19" fill="#c0c0c0"/><rect x="1159" y="545" width="1" height="17" fill="#c0c0c0"/><rect x="1167" y="546" width="1" height="16" fill="#c0c0c0"/><rect x="1175" y="545" width="1" height="17" fill="#c0c0c0"/><rect x="1183" y="545" width="1" height="17" fill="#c0c0c0"/><rect x="1191" y="542" width="1" height="20" fill="#c0c0c0"/><rect x="1199" y="539" width="1" height="23" fill="#c0c0c0"/><rect x="1207" y="538" width="1" height="24" fill="#c0c0c0"/><rect x="1215" y="539" width="1" height="23" fill="#c0c0c0"/><rect x="1223" y="539" width="1" height="23" fill="#c0c0c0"/><rect x="1231" y="538" width="1" height="24" fill="#c0c0c0"/><rect x="1239" y="536" width="1" height="26" fill="#c0c0c0"/><rect x="1247" y="536" width="1" height="26" fill="#c0c0c0"/><rect x="1255" y="536" width="1" height="26" fill="#c0c0c0"/><rect x="1263" y="536" width="1" height="26" fill="#c0c0c0"/><rect x="1271" y="540" width="1" height="22" fill="#c0c0c0"/><rect x="1279" y="543" width="1" height="19" fill="#c0c0c0"/><rect x="1287" y="546" width="1" height="16" fill="#c0c0c0"/><rect x="1295" y="561" width="1" height="1" fill="#c0c0c0"/><rect x="1303" y="561" width="1" height="3" fill="#c0c0c0"/><rect x="1311" y="561" width="1" height="9" fill="#c0c0c0"/><rect x="1319" y="561" width="1" height="14" fill="#c0c0c0"/><rect x="1327" y="561" width="1" height="17" fill="#c0c0c0"/><rect x="1335" y="561" width="1" height="19" fill="#c0c0c0"/><rect x="1343" y="561" width="1" height="23" fill="#c0c0c0"/><rect x="1351" y="561" width="1" height="27" fill="#c0c0c0"/><rect x="1359" y="561" width="1" height="30" fill="#c0c0c0"/><rect x="1367" y="561" width="1" height="31" fill="#c0c0c0"/><rect x="1375" y="561" width="1" height="31" fill="#c0c0c0"/><rect x="1383" y="561" width="1" height="37" fill="#c0c0c0"/><rect x="1391" y="561" width="1" height="47" fill="#c0c0c0"/><rect x="1399" y="561" width="1" height="55" fill="#c0c0c0"/><rect x="1407" y="561" width="1" height="59" fill="#c0c0c0"/><rect x="1415" y="561" width="1" height="61" fill="#c0c0c0"/><rect x="1423" y="561" width="1" height="62" fill="#c0c0c0"/><rect x="1431" y="561" width="1" height="63" fill="#c0c0c0"/><rect x="1439" y="561" width="1" height="60" fill="#c0c0c0"/><rect x="1447" y="561" width="1" height="55" fill="#c0c0c0"/><rect x="1455" y="561" width="1" height="51" fill="#c0c0c0"/><rect x="1463" y="561" width="1" height="46" fill="#c0c0c0"/><rect x="1471" y="561" width="1" height="41" fill="#c0c0c0"/><rect x="1479" y="561" width="1" height="34" fill="#c0c0c0"/><rect x="1487" y="561" width="1" height="35" fill="#c0c0c0"/><rect x="1495" y="561" width="1" height="36" fill="#c0c0c0"/><rect x="1503" y="561" width="1" height="38" fill="#c0c0c0"/><rect x="1511" y="561" width="1" height="43" fill="#c0c0c0"/><rect x="1519" y="561" width="1" height="47" fill="#c0c0c0"/><rect x="1527" y="561" width="1" height="55" fill="#c0c0c0"/><rect x="1535" y="561" width="1" height="61" fill="#c0c0c0"/><rect x="1543" y="561" width="1" height="62" fill="#c0c0c0"/><rect x="1551" y="561" width="1" height="60" fill="#c0c0c0"/><rect x="1559" y="561" width="1" height="59" fill="#c0c0c0"/><rect x="1567" y="561" width="1" height="55" fill="#c0c0c0"/><rect x="1575" y="561" width="1" height="49" fill="#c0c0c0"/><rect x="1583" y="561" width="1" height="44" fill="#c0c0c0"/><rect x="1591" y="561" width="1" height="35" fill="#c0c0c0"/><rect x="1599" y="561" width="1" height="27" fill="#c0c0c0"/><rect x="1607" y="561" width="1" height="22" fill="#c0c0c0"/><rect x="1615" y="561" width="1" height="18" fill="#c0c0c0"/><rect x="1623" y="561" width="1" height="14" fill="#c0c0c0"/><rect x="1631" y="561" width="1" height="16" fill="#c0c0c0"/><rect x="1639" y="561" width="1" height="16" fill="#c0c0c0"/><rect x="1647" y="561" width="1" height="7" fill="#c0c0c0"/><rect x="1655" y="561" width="1" height="1" fill="#c0c0c0"/><rect x="1663" y="557" width="1" height="5" fill="#c0c0c0"/><polyline points="0.00,532.80 24.90,538.60 49.80,542.30 74.70,547.30 99.60,554.30 117.00,561.00 137.00,567.20 161.80,569.20 186.80,566.70 204.20,563.50 224.10,559.20 249.00,551.80 268.90,545.50 298.80,540.30 323.70,536.10 348.60,531.90 361.00,531.60 378.50,534.30 398.40,542.30 413.30,556.00 428.30,569.20 442.50,581.00 454.90,588.40 467.40,595.10 479.80,599.10 492.30,597.10 504.70,594.10 517.20,587.20 529.60,579.20 542.00,572.20 554.50,566.00 567.00,561.80 579.40,558.00 591.90,556.50 604.30,554.80 624.20,550.60 636.70,546.80 649.10,542.80 674.00,542.40 691.40,548.60 703.90,556.00 716.40,566.00 728.80,573.50 741.30,582.20 753.70,586.70 766.20,590.20 778.60,592.60 793.50,594.10 808.50,600.90 818.40,607.60 833.40,620.80 848.30,633.20 860.00,642.00 872.50,651.90 887.40,655.10 897.40,652.40 909.80,644.40 922.30,633.20 934.70,620.00 947.20,604.60 959.60,588.40 972.10,571.00 984.50,558.50 997.00,547.80 1009.40,539.90 1021.90,531.90 1034.30,525.40 1046.70,522.40 1059.20,521.40 1071.70,519.90 1096.50,519.40 1114.00,519.90 1128.90,521.90 1146.40,526.20 1158.80,529.90 1176.20,536.10 1191.20,540.40 1221.10,541.10 1238.50,538.60 1258.40,537.40 1283.30,537.40 1290.00,538.90 1300.10,541.70 1315.30,550.50 1328.00,555.60 1340.60,564.50 1353.30,572.80 1365.90,579.60 1378.60,584.70 1391.20,589.80 1403.90,597.40 1416.50,603.70 1429.20,610.80 1441.80,615.10 1454.50,617.60 1467.10,617.60 1479.80,613.30 1492.40,610.00 1505.10,605.00 1517.70,602.40 1530.40,602.40 1543.00,606.70 1555.70,611.30 1568.30,615.10 1581.00,615.80 1593.60,613.80 1606.30,606.20 1618.90,598.60 1631.60,591.50 1644.30,585.50 1656.90,577.90 1663.70,573.30" fill="none" stroke="#ff0000" stroke-width="1" stroke-dasharray="3 3"/></g><g clip-path="url(#crsi)"><line x1="0" y1="717.5" x2="1684" y2="717.5" stroke="#c0c0c0" stroke-width="1" stroke-dasharray="3 3"/><line x1="0" y1="775.5" x2="1684" y2="775.5" stroke="#c0c0c0" stroke-width="1" stroke-dasharray="3 3"/></g><g clip-path="url(#crsi)"><polyline points="-0.5,741.00 7.5,748.40 15.5,739.20 23.5,738.20 31.5,738.20 39.5,735.50 47.5,739.70 55.5,742.20 63.5,741.40 71.5,759.10 79.5,762.10 87.5,763.90 95.5,767.80 103.5,758.90 111.5,755.10 119.5,750.40 127.5,745.90 135.5,747.20 143.5,747.20 151.5,755.10 159.5,739.20 167.5,748.40 175.5,745.90 183.5,745.90 191.5,742.70 199.5,736.00 207.5,719.30 215.5,732.70 223.5,735.20 231.5,734.20 239.5,730.20 247.5,731.70 255.5,739.20 263.5,731.00 271.5,727.30 279.5,730.20 287.5,730.20 295.5,731.20 303.5,729.20 311.5,725.30 319.5,718.00 327.5,716.00 335.5,711.10 343.5,708.60 351.5,729.20 359.5,763.40 367.5,759.60 375.5,758.40 383.5,763.40 391.5,754.60 399.5,746.40 407.5,770.30 415.5,767.80 423.5,765.30 431.5,764.20 439.5,769.20 447.5,765.90 455.5,756.00 463.5,750.50 471.5,749.30 479.5,752.30 487.5,747.80 495.5,744.30 503.5,736.10 511.5,735.30 519.5,735.30 527.5,735.30 535.5,738.60 543.5,746.00 551.5,749.80 559.5,742.30 567.5,741.30 575.5,742.30 583.5,739.80 591.5,735.30 599.5,738.10 607.5,729.80 615.5,725.40 623.5,728.10 631.5,729.80 639.5,729.10 647.5,729.10 655.5,750.50 663.5,760.20 671.5,759.20 679.5,763.50 687.5,769.20 695.5,770.20 703.5,756.00 711.5,768.40 719.5,768.40 727.5,765.40 735.5,764.20 743.5,763.50 751.5,758.50 759.5,764.20 767.5,765.90 775.5,767.20 783.5,770.90 791.5,773.40 799.5,785.90 807.5,793.30 815.5,797.80 823.5,793.30 831.5,794.10 839.5,780.40 847.5,784.60 855.5,772.20 863.5,771.40 871.5,776.70 879.5,772.90 887.5,761.70 895.5,755.20 903.5,736.60 911.5,738.60 919.5,737.30 927.5,740.30 935.5,739.30 943.5,731.80 951.5,729.80 959.5,726.40 967.5,725.40 975.5,727.40 983.5,726.40 991.5,725.60 999.5,725.40 1007.5,722.40 1015.5,721.10 1023.5,719.40 1031.5,731.80 1039.5,739.30 1047.5,731.80 1055.5,730.30 1063.5,722.40 1071.5,722.40 1079.5,721.40 1087.5,729.10 1095.5,727.40 1103.5,732.80 1111.5,731.30 1119.5,741.80 1127.5,745.30 1135.5,744.30 1143.5,742.50 1151.5,746.50 1159.5,742.80 1167.5,738.60 1175.5,734.30 1183.5,734.30 1191.5,726.90 1199.5,723.10 1207.5,730.30 1215.5,735.30 1223.5,731.30 1231.5,729.30 1239.5,723.40 1247.5,728.10 1255.5,729.30 1263.5,728.10 1271.5,745.30 1279.5,746.30 1287.5,744.30 1295.5,775.60 1303.5,765.00 1311.5,761.20 1319.5,764.20 1327.5,763.70 1335.5,762.40 1343.5,768.20 1351.5,769.30 1359.5,771.30 1367.5,766.70 1375.5,762.40 1383.5,778.40 1391.5,783.90 1399.5,786.50 1407.5,783.40 1415.5,775.60 1423.5,778.40 1431.5,779.40 1439.5,761.20 1447.5,758.60 1455.5,760.60 1463.5,756.60 1471.5,752.30 1479.5,744.70 1487.5,762.40 1495.5,764.20 1503.5,765.70 1511.5,773.30 1519.5,775.10 1527.5,781.90 1535.5,783.40 1543.5,770.00 1551.5,765.70 1559.5,766.70 1567.5,763.70 1575.5,751.50 1583.5,753.60 1591.5,741.40 1599.5,743.40 1607.5,741.40 1615.5,746.50 1623.5,742.70 1631.5,756.60 1639.5,753.60 1647.5,734.30 1655.5,734.30 1663.5,734.30" fill="none" stroke="#1e90ff" stroke-width="1"/></g><rect x="1685" y="7" width="2" height="1" fill="#000"/><rect x="1685" y="40" width="2" height="1" fill="#000"/><rect x="1685" y="73" width="2" height="1" fill="#000"/><rect x="1685" y="106" width="2" height="1" fill="#000"/><rect x="1685" y="139" width="2" height="1" fill="#000"/><rect x="1685" y="172" width="2" height="1" fill="#000"/><rect x="1685" y="205" width="2" height="1" fill="#000"/><rect x="1685" y="238" width="2" height="1" fill="#000"/><rect x="1685" y="271" width="2" height="1" fill="#000"/><rect x="1685" y="304" width="2" height="1" fill="#000"/><rect x="1685" y="337" width="2" height="1" fill="#000"/><rect x="1685" y="370" width="2" height="1" fill="#000"/><rect x="1685" y="403" width="2" height="1" fill="#000"/><rect x="1685" y="436" width="2" height="1" fill="#000"/><rect x="1685" y="469" width="2" height="1" fill="#000"/><rect x="1685" y="502" width="2" height="1" fill="#000"/><rect x="1685" y="509" width="2" height="1" fill="#000"/><rect x="1685" y="561" width="2" height="1" fill="#000"/><rect x="1685" y="662" width="2" height="1" fill="#000"/><rect x="1685" y="678" width="2" height="1" fill="#000"/><rect x="1685" y="717" width="2" height="1" fill="#000"/><rect x="1685" y="775" width="2" height="1" fill="#000"/><rect x="1685" y="813" width="2" height="1" fill="#000"/><rect x="63" y="821" width="1" height="3" fill="#000"/><rect x="127" y="821" width="1" height="3" fill="#000"/><rect x="191" y="821" width="1" height="3" fill="#000"/><rect x="255" y="821" width="1" height="3" fill="#000"/><rect x="319" y="821" width="1" height="3" fill="#000"/><rect x="383" y="821" width="1" height="3" fill="#000"/><rect x="447" y="821" width="1" height="3" fill="#000"/><rect x="511" y="821" width="1" height="3" fill="#000"/><rect x="575" y="821" width="1" height="3" fill="#000"/><rect x="639" y="821" width="1" height="3" fill="#000"/><rect x="703" y="821" width="1" height="3" fill="#000"/><rect x="767" y="821" width="1" height="3" fill="#000"/><rect x="831" y="821" width="1" height="3" fill="#000"/><rect x="895" y="821" width="1" height="3" fill="#000"/><rect x="959" y="821" width="1" height="3" fill="#000"/><rect x="1023" y="821" width="1" height="3" fill="#000"/><rect x="1087" y="821" width="1" height="3" fill="#000"/><rect x="1151" y="821" width="1" height="3" fill="#000"/><rect x="1215" y="821" width="1" height="3" fill="#000"/><rect x="1279" y="821" width="1" height="3" fill="#000"/><rect x="1343" y="821" width="1" height="3" fill="#000"/><rect x="1407" y="821" width="1" height="3" fill="#000"/><rect x="1471" y="821" width="1" height="3" fill="#000"/><rect x="1535" y="821" width="1" height="3" fill="#000"/><rect x="1599" y="821" width="1" height="3" fill="#000"/><rect x="1663" y="821" width="1" height="3" fill="#000"/><path d="M1.5 12 L9 12 L5.25 16 Z" fill="#000" shape-rendering="auto"/><g class="t"><text x="1690" y="11" fill="#000" text-anchor="start">78.310</text><text x="1690" y="44" fill="#000" text-anchor="start">77.570</text><text x="1690" y="77" fill="#000" text-anchor="start">76.830</text><text x="1690" y="110" fill="#000" text-anchor="start">76.090</text><text x="1690" y="143" fill="#000" text-anchor="start">75.350</text><text x="1690" y="176" fill="#000" text-anchor="start">74.610</text><text x="1690" y="209" fill="#000" text-anchor="start">73.870</text><text x="1690" y="242" fill="#000" text-anchor="start">73.130</text><text x="1690" y="275" fill="#000" text-anchor="start">72.390</text><text x="1690" y="308" fill="#000" text-anchor="start">71.650</text><text x="1690" y="341" fill="#000" text-anchor="start">70.910</text><text x="1690" y="374" fill="#000" text-anchor="start">70.170</text><text x="1690" y="407" fill="#000" text-anchor="start">69.430</text><text x="1690" y="440" fill="#000" text-anchor="start">68.690</text><text x="1690" y="473" fill="#000" text-anchor="start">67.950</text><text x="1690" y="506" fill="#000" text-anchor="start">67.210</text><text x="1688" y="518" fill="#000" text-anchor="start">0.805</text><text x="1688" y="565" fill="#000" text-anchor="start">0.00</text><text x="1688" y="666" fill="#000" text-anchor="start">-1.6556</text><text x="1688" y="682" fill="#000" text-anchor="start">100</text><text x="1688" y="721" fill="#000" text-anchor="start">70</text><text x="1688" y="779" fill="#000" text-anchor="start">30</text><text x="1688" y="817" fill="#000" text-anchor="start">0</text><text x="-2" y="833" fill="#000" text-anchor="start">25 Jun 2021</text><text x="62" y="833" fill="#000" text-anchor="start">28 Jun 08:00</text><text x="126" y="833" fill="#000" text-anchor="start">29 Jun 16:00</text><text x="190" y="833" fill="#000" text-anchor="start">1 Jul 00:00</text><text x="254" y="833" fill="#000" text-anchor="start">2 Jul 08:00</text><text x="318" y="833" fill="#000" text-anchor="start">5 Jul 12:00</text><text x="382" y="833" fill="#000" text-anchor="start">7 Jul 00:00</text><text x="446" y="833" fill="#000" text-anchor="start">8 Jul 08:00</text><text x="510" y="833" fill="#000" text-anchor="start">9 Jul 16:00</text><text x="574" y="833" fill="#000" text-anchor="start">12 Jul 20:00</text><text x="638" y="833" fill="#000" text-anchor="start">14 Jul 04:00</text><text x="702" y="833" fill="#000" text-anchor="start">15 Jul 12:00</text><text x="766" y="833" fill="#000" text-anchor="start">16 Jul 20:00</text><text x="830" y="833" fill="#000" text-anchor="start">20 Jul 00:00</text><text x="894" y="833" fill="#000" text-anchor="start">21 Jul 08:00</text><text x="958" y="833" fill="#000" text-anchor="start">22 Jul 16:00</text><text x="1022" y="833" fill="#000" text-anchor="start">25 Jul 23:00</text><text x="1086" y="833" fill="#000" text-anchor="start">27 Jul 04:00</text><text x="1150" y="833" fill="#000" text-anchor="start">28 Jul 16:00</text><text x="1214" y="833" fill="#000" text-anchor="start">30 Jul 00:00</text><text x="1278" y="833" fill="#000" text-anchor="start">2 Aug 04:00</text><text x="1342" y="833" fill="#000" text-anchor="start">3 Aug 12:00</text><text x="1406" y="833" fill="#000" text-anchor="start">4 Aug 20:00</text><text x="1470" y="833" fill="#000" text-anchor="start">6 Aug 04:00</text><text x="1534" y="833" fill="#000" text-anchor="start">9 Aug 08:00</text><text x="1598" y="833" fill="#000" text-anchor="start">10 Aug 16:00</text><text x="1662" y="833" fill="#000" text-anchor="start">11 Aug 21:15</text><text x="14" y="17" textLength="43" lengthAdjust="spacingAndGlyphs" style="font-size:9.8px">UKOil-,H4</text><text x="62.5" y="17" textLength="121.5" lengthAdjust="spacing">71.580 71.580 71.580 71.580</text><text x="3" y="520" fill="#000" text-anchor="start">MACD(12,26,9) 0.0729 -0.2005</text><text x="3" y="684" fill="#000" text-anchor="start">RSI(14) 58.3582</text></g><rect x="1686" y="104" width="36" height="11" fill="#ff0000"/><text class="bl" x="1690" y="113" fill="#fff">76.000</text><rect x="1686" y="238" width="36" height="11" fill="#ff0000"/><text class="bl" x="1690" y="247" fill="#fff">73.000</text><rect x="1686" y="302" width="36" height="11" fill="#000"/><text class="bl" x="1690" y="311" fill="#fff">71.580</text><rect x="1686" y="371" width="36" height="11" fill="#32cd32"/><text class="bl" x="1690" y="380" fill="#fff">70.000</text><text x="1059" y="453" class="cn" fill="#e8171f">多空转折点70</text></svg>
</body></html>
